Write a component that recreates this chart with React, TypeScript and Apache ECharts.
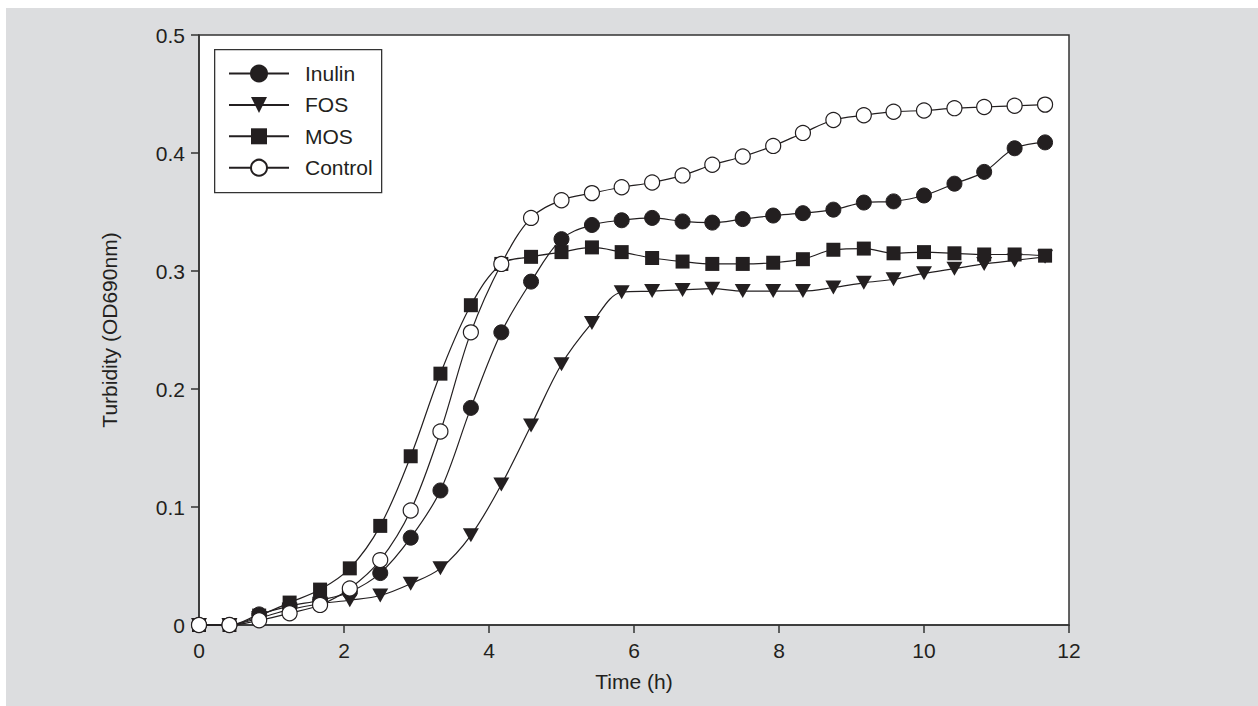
import React, { useEffect, useRef } from "react";
import * as echarts from "echarts";

const timeH = [0, 0.42, 0.83, 1.25, 1.67, 2.08, 2.5, 2.92, 3.33, 3.75, 4.17, 4.58, 5.0, 5.42, 5.83, 6.25, 6.67, 7.08, 7.5, 7.92, 8.33, 8.75, 9.17, 9.58, 10.0, 10.42, 10.83, 11.25, 11.67];

const inulin = [0, 0, 0.009, 0.016, 0.021, 0.028, 0.044, 0.074, 0.114, 0.184, 0.248, 0.291, 0.327, 0.339, 0.343, 0.345, 0.342, 0.341, 0.344, 0.347, 0.349, 0.352, 0.358, 0.359, 0.364, 0.374, 0.384, 0.404, 0.409];
const fos = [0, 0, 0.006, 0.013, 0.018, 0.021, 0.025, 0.035, 0.048, 0.076, 0.119, 0.169, 0.221, 0.256, 0.282, 0.283, 0.284, 0.285, 0.283, 0.283, 0.283, 0.286, 0.29, 0.293, 0.298, 0.302, 0.306, 0.309, 0.312];
const mos = [0, 0, 0.008, 0.019, 0.03, 0.048, 0.084, 0.143, 0.213, 0.271, 0.306, 0.312, 0.316, 0.32, 0.316, 0.311, 0.308, 0.306, 0.306, 0.307, 0.31, 0.318, 0.319, 0.315, 0.316, 0.315, 0.314, 0.314, 0.313];
const control = [0, 0, 0.004, 0.01, 0.017, 0.031, 0.055, 0.097, 0.164, 0.248, 0.306, 0.345, 0.36, 0.366, 0.371, 0.375, 0.381, 0.39, 0.397, 0.406, 0.417, 0.428, 0.432, 0.435, 0.436, 0.438, 0.439, 0.44, 0.441];

const seriesNames = ["Inulin", "FOS", "MOS", "Control"];
const xTicks = [0, 2, 4, 6, 8, 10, 12];
const yTicks = [0, 0.1, 0.2, 0.3, 0.4, 0.5];

const FONT = "'Liberation Sans', Arial, Helvetica, sans-serif";
const FS = 21;
const INK = "#231f20";
const BG = "#dcdddf";

function pairs(ys: number[]) {
  return ys.map((y, i) => [timeH[i], y]);
}

export default function App() {
  const ref = useRef<HTMLDivElement>(null);
  useEffect(() => {
    if (!ref.current) return;
    const chart = echarts.init(ref.current, undefined, { renderer: "svg" });
    const common = {
      type: "line",
      smooth: 0.35,
      clip: false,
      lineStyle: { color: INK, width: 1.2 },
      emphasis: { disabled: true },
    };
    const seriesDefs = [
      { name: seriesNames[0], data: pairs(inulin), symbol: "circle", symbolSize: 15, itemStyle: { color: INK, borderColor: INK, borderWidth: 1 } },
      { name: seriesNames[1], data: pairs(fos), symbol: "triangle", symbolRotate: 180, symbolSize: [16, 14], itemStyle: { color: INK, borderColor: INK, borderWidth: 0 } },
      { name: seriesNames[2], data: pairs(mos), symbol: "rect", symbolSize: 14, itemStyle: { color: INK, borderColor: INK, borderWidth: 0 } },
      { name: seriesNames[3], data: pairs(control), symbol: "circle", symbolSize: 15, itemStyle: { color: "#ffffff", borderColor: INK, borderWidth: 1.2 } },
    ];
    chart.setOption({
      animation: false,
      backgroundColor: BG,
      textStyle: { fontFamily: FONT, color: INK },
      grid: {
        left: 193,
        top: 27,
        right: 189,
        bottom: 81,
        show: true,
        backgroundColor: "#ffffff",
        borderColor: "#333333",
        borderWidth: 1.5,
      },
      legend: {
        data: seriesNames,
        orient: "vertical",
        left: 222,
        top: 55,
        padding: 0,
        itemWidth: 60,
        itemHeight: 20,
        itemGap: 10.4,
        selectedMode: false,
        textStyle: { fontFamily: FONT, fontSize: FS, lineHeight: 20, color: INK, padding: [0, 0, 0, 11] },
      },
      graphic: [
        {
          type: "rect",
          left: 208,
          top: 41,
          z: 50,
          shape: { width: 167, height: 143 },
          style: { fill: "transparent", stroke: "#333333", lineWidth: 1.3 },
        },
      ],
      xAxis: {
        type: "value",
        min: 0,
        max: 12,
        interval: 2,
        name: "Time (h)",
        nameLocation: "middle",
        nameGap: 46,
        nameTextStyle: { fontFamily: FONT, fontSize: FS, color: INK },
        axisLine: { show: true, lineStyle: { color: "#333333", width: 1.5 } },
        axisTick: { show: true, inside: false, length: 8, lineStyle: { color: "#333333", width: 1.5 } },
        axisLabel: {
          margin: 15,
          fontFamily: FONT,
          fontSize: FS,
          color: INK,
          formatter: (v: number) => (xTicks.includes(v) ? String(v) : ""),
        },
        splitLine: { show: false },
      },
      yAxis: {
        type: "value",
        min: 0,
        max: 0.5,
        interval: 0.1,
        name: "Turbidity (OD690nm)",
        nameLocation: "middle",
        nameGap: 79,
        nameTextStyle: { fontFamily: FONT, fontSize: FS, color: INK },
        axisLine: { show: true, lineStyle: { color: "#333333", width: 1.5 } },
        axisTick: { show: true, inside: false, length: 8, lineStyle: { color: "#333333", width: 1.5 } },
        axisLabel: {
          margin: 14,
          fontFamily: FONT,
          fontSize: FS,
          color: INK,
          formatter: (v: number) => {
            const t = yTicks.find((k) => Math.abs(k - v) < 1e-9);
            return t === undefined ? "" : t === 0 ? "0" : t.toFixed(1);
          },
        },
        splitLine: { show: false },
      },
      series: seriesDefs.map((s) => ({ ...common, ...s })),
    });
    return () => chart.dispose();
  }, []);
  return (
    <div
      ref={ref}
      style={{ position: "absolute", left: 6, top: 8, width: 1252, height: 698, background: BG }}
    />
  );
}
